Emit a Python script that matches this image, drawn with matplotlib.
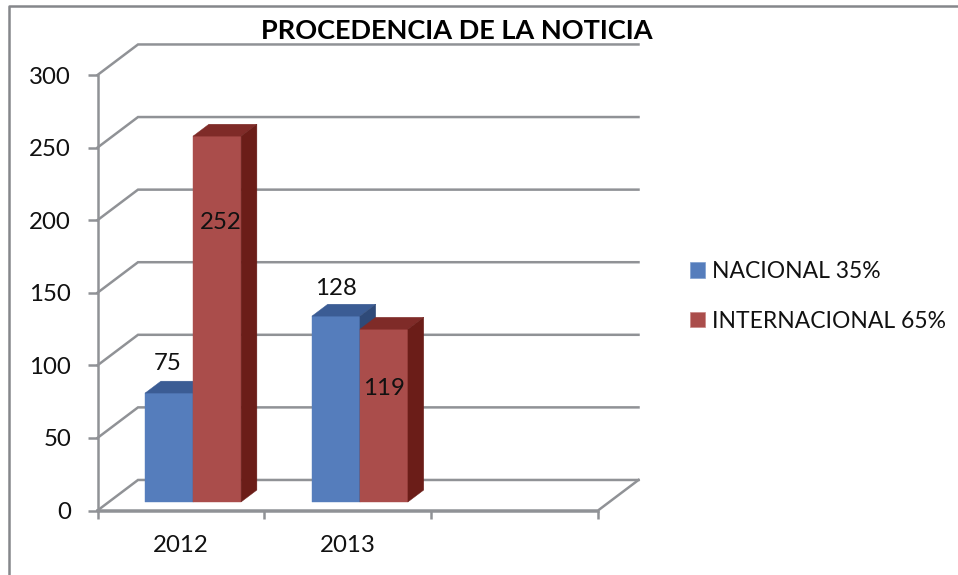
import numpy as np
from matplotlib import pyplot as plt
from matplotlib.lines import Line2D
from matplotlib.patches import Patch, Polygon

categories = ["2012", "2013", ""]
nacional = [75, 128]
internacional = [252, 119]
series_names = ["NACIONAL 35%", "INTERNACIONAL 65%"]
y_ticks = [0, 50, 100, 150, 200, 250, 300]
title = "PROCEDENCIA DE LA NOTICIA"

W, H = 958, 575
plt.rcParams['font.family'] = ['Lato', 'DejaVu Sans']
text_col = "#111111"
grid_col = "#909296"
line_w = 1.8
label_size = 17.3

fig = plt.figure(figsize=(W / 100, H / 100), dpi=100)
ax = fig.add_axes([97.5 / W, 1 - 510.5 / H, 500.5 / W, 435.5 / H])
ax.set_xlim(0, 3)
ax.set_ylim(0, 300)
ax.patch.set_alpha(0)

# depth of the fake 3d box, in data units
depth_x = 40.5 / 500.5 * 3
depth_y = 30.5 / 435 * 300


def proj(x, y, d):
    # d = 0 front of the box, d = 1 back wall
    return (x + d * depth_x, y + d * depth_y)


# walls and floor
for v in y_ticks:
    xs, ys = zip(proj(0, v, 0), proj(0, v, 1), proj(3, v, 1))
    ax.plot(xs, ys, color=grid_col, lw=line_w, clip_on=False, solid_joinstyle="miter", zorder=1)
xs, ys = zip(proj(0, 0, 0), proj(3, 0, 0), proj(3, 0, 1))
ax.plot(xs, ys, color=grid_col, lw=line_w, clip_on=False, zorder=1)

# bars
bar_w = 48 / 500.5 * 3
d0, d1 = 0.28, 0.67


def draw_bar(x, v, front, top, side):
    faces = [
        ([proj(x, 0, d0), proj(x + bar_w, 0, d0), proj(x + bar_w, v, d0), proj(x, v, d0)], front),
        ([proj(x, v, d0), proj(x + bar_w, v, d0), proj(x + bar_w, v, d1), proj(x, v, d1)], top),
        ([proj(x + bar_w, 0, d0), proj(x + bar_w, 0, d1), proj(x + bar_w, v, d1), proj(x + bar_w, v, d0)], side),
    ]
    for pts, c in faces:
        ax.add_patch(Polygon(pts, closed=True, facecolor=c, edgecolor=c, lw=0.3, clip_on=False, zorder=3))


label_dy = [[30, 28], [-86, -59]]
label_dx = [[-1, 0], [4, 0]]
for i in range(2):
    left = i + 0.5 - bar_w + 0.005
    draw_bar(left, nacional[i], "#557dbc", "#3b5c94", "#2f4a78")
    draw_bar(left + bar_w, internacional[i], "#aa4d4b", "#7f2b28", "#6b1d18")
    for j, (v, x) in enumerate([(nacional[i], left), (internacional[i], left + bar_w)]):
        ax.annotate(str(v), proj(x + bar_w / 2, v, d0), xytext=(label_dx[j][i] * 0.72, label_dy[j][i] * 0.72),
                    textcoords="offset points", ha="center", va="center", fontsize=label_size,
                    color=text_col, zorder=5, annotation_clip=False)

# axes
for s in ["top", "right"]:
    ax.spines[s].set_visible(False)
for s in ["left", "bottom"]:
    ax.spines[s].set_color(grid_col)
    ax.spines[s].set_linewidth(line_w)
ax.set_yticks(y_ticks)
ax.set_xticks(np.arange(4))
ax.set_xticklabels([])
ax.set_xticks(np.arange(3) + 0.5, minor=True)
ax.set_xticklabels(categories, minor=True)
ax.tick_params(axis="x", which="major", length=6, width=line_w, color=grid_col)
ax.tick_params(axis="x", which="minor", length=0, pad=18, labelsize=label_size, labelcolor=text_col)
ax.tick_params(axis="y", length=7, width=line_w, color=grid_col, pad=12, labelsize=label_size, labelcolor=text_col)

fig.text(457 / W, 1 - 31 / H, title, ha="center", va="center", fontsize=19.5,
         fontweight="bold", color="#000000")

handles = [Patch(facecolor="#557dbc", edgecolor="#7f9fd0", lw=0.5),
           Patch(facecolor="#aa4d4b", edgecolor="#c98684", lw=0.5)]
fig.legend(handles, series_names, loc="upper left", bbox_to_anchor=(683 / W, 1 - 254 / H),
           frameon=False, fontsize=16.5, labelcolor=text_col, handlelength=0.68, handleheight=0.68,
           handletextpad=0.27, labelspacing=1.25, borderpad=0.3, borderaxespad=0)

# outer chart frame, only the left and top edges fit in the crop
fig.add_artist(Line2D([9 / W, 9 / W, 1], [0, 1 - 6 / H, 1 - 6 / H], color="#85878b", lw=line_w))

fig.savefig("out.png", dpi=100)
